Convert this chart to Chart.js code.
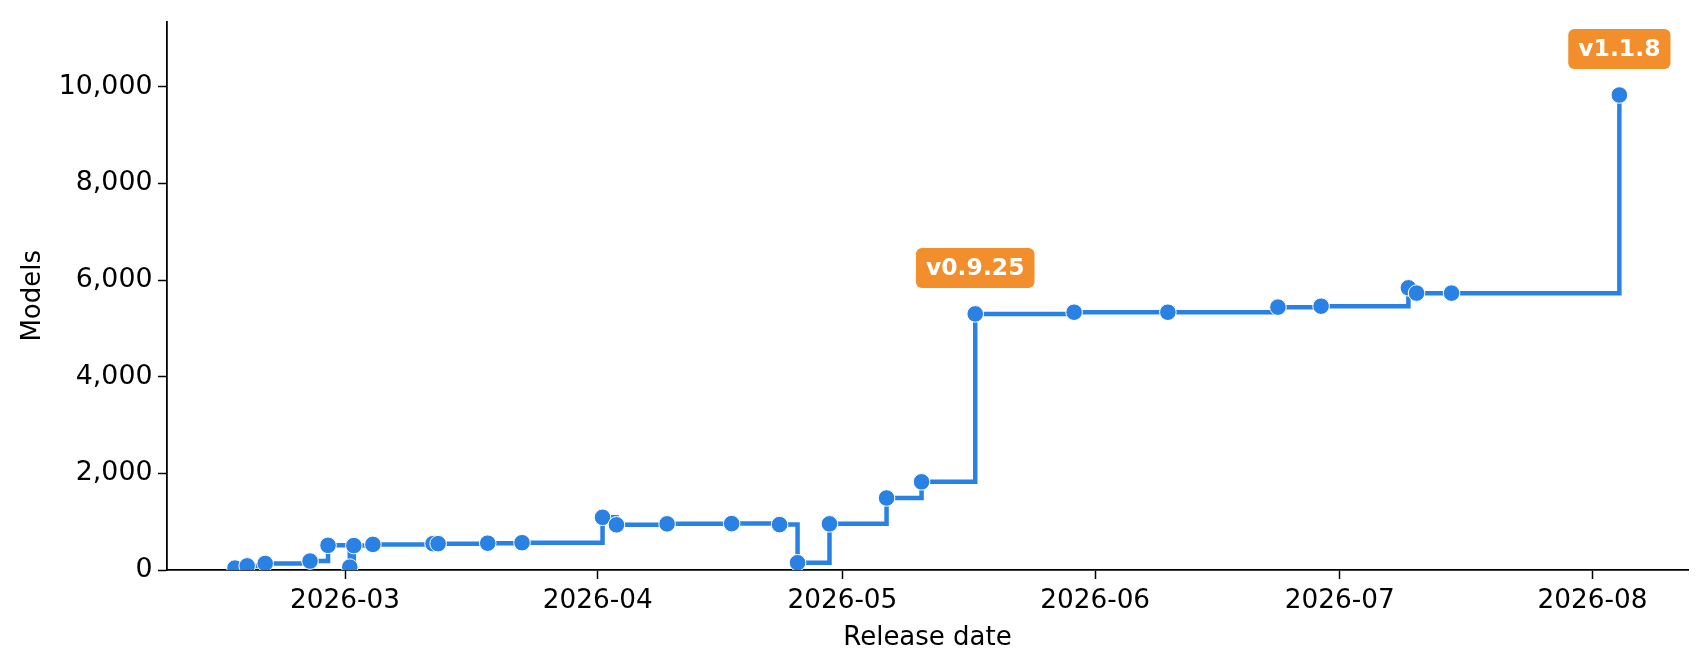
<!DOCTYPE html>
<html>
<head>
<meta charset="utf-8">
<script src="https://cdn.jsdelivr.net/npm/chart.js@4"></script>
<style>
  html, body { margin: 0; padding: 0; background: #fff; }
  #wrap { width: 1708px; height: 671px; }
</style>
</head>
<body>
<div id="wrap"><canvas id="modelsChart"></canvas></div>
<script>
// release dates (UTC) and cumulative model count at each release
const releaseDates = [
  '2026-02-15T12:00Z', '2026-02-17T00:00Z', '2026-02-19T05:00Z', '2026-02-24T17:00Z',
  '2026-02-26T22:00Z', '2026-03-01T14:00Z', '2026-03-02T02:00Z', '2026-03-04T10:00Z',
  '2026-03-11T19:00Z', '2026-03-12T10:00Z', '2026-03-18T12:00Z', '2026-03-22T17:00Z',
  '2026-04-01T14:00Z', '2026-04-03T07:00Z', '2026-04-09T12:00Z', '2026-04-17T10:00Z',
  '2026-04-23T07:00Z', '2026-04-25T12:00Z', '2026-04-29T10:00Z', '2026-05-06T10:00Z',
  '2026-05-10T17:00Z', '2026-05-17T07:00Z', '2026-05-29T10:00Z', '2026-06-09T22:00Z',
  '2026-06-23T10:00Z', '2026-06-28T17:00Z', '2026-07-09T10:00Z', '2026-07-10T10:00Z',
  '2026-07-14T17:00Z', '2026-08-04T07:00Z'
];
const modelCounts = [
  40, 85, 135, 185,
  510, 60, 505, 530,
  545, 545, 555, 565,
  1090, 935, 955, 960,
  940, 150, 955, 1490,
  1825, 5300, 5335, 5335,
  5440, 5460, 5840, 5730,
  5730, 9830
];

// releases that get a version badge
const badgeIndex = [21, 29];
const badgeText = ['v0.9.25', 'v1.1.8'];

// axis ticks
const xTickDates = ['2026-03-01', '2026-04-01', '2026-05-01', '2026-06-01', '2026-07-01', '2026-08-01'];
const yTicks = [0, 2000, 4000, 6000, 8000, 10000];

const FONT = 'DejaVu Sans';
const BLUE = '#2a81e4';
const ORANGE = '#f28e2b';

// draws the orange version badges above the chosen points
const badgePlugin = {
  id: 'badges',
  afterDatasetsDraw(chart) {
    const ctx = chart.ctx;
    const meta = chart.getDatasetMeta(0);
    ctx.save();
    ctx.font = 'bold 23.5px "' + FONT + '"';
    ctx.textAlign = 'center';
    ctx.textBaseline = 'middle';
    badgeIndex.forEach((idx, i) => {
      const pt = meta.data[idx];
      const cx = pt.x;
      const cy = pt.y - 46;
      const w = ctx.measureText(badgeText[i]).width + 20;
      const h = 40;
      ctx.fillStyle = ORANGE;
      ctx.beginPath();
      ctx.roundRect(cx - w / 2, cy - h / 2, w, h, 6);
      ctx.fill();
      ctx.fillStyle = '#fff';
      ctx.fillText(badgeText[i], cx, cy + 1);
    });
    ctx.restore();
  }
};

Chart.defaults.font.family = FONT;
Chart.defaults.color = '#000';

const points = releaseDates.map((d, i) => ({ x: Date.parse(d), y: modelCounts[i] }));

new Chart(document.getElementById('modelsChart'), {
  type: 'line',
  data: {
    datasets: [{
      data: points,
      stepped: true,
      borderColor: BLUE,
      borderWidth: 4.5,
      borderJoinStyle: 'miter',
      pointRadius: 8.3,
      pointBackgroundColor: BLUE,
      pointBorderColor: '#fff',
      pointBorderWidth: 1,
      fill: false
    }]
  },
  options: {
    responsive: true,
    maintainAspectRatio: false,
    animation: false,
    layout: { padding: { top: 15, right: 20, left: 0, bottom: 0 } },
    plugins: {
      legend: { display: false },
      tooltip: { enabled: false }
    },
    scales: {
      x: {
        type: 'linear',
        min: Date.parse('2026-02-07T04:00Z'),
        max: Date.parse('2026-08-12T17:00Z'),
        afterBuildTicks: (scale) => { scale.ticks = xTickDates.map(d => ({ value: Date.parse(d) })); },
        afterFit: (scale) => { scale.height = 101; },
        ticks: {
          font: { size: 26.3 },
          maxRotation: 0,
          autoSkip: false,
          padding: 6,
          callback: (v) => new Date(v).toISOString().slice(0, 7)
        },
        grid: { display: true, drawOnChartArea: false, drawTicks: true, tickLength: 9, tickWidth: 1.5, tickColor: '#000' },
        border: { display: true, color: '#000', width: 1.8 },
        title: { display: true, text: 'Release date', font: { size: 26 }, padding: { top: 0, bottom: 17.5 } }
      },
      y: {
        min: 0,
        max: 11350,
        afterBuildTicks: (scale) => { scale.ticks = yTicks.map(v => ({ value: v })); },
        afterFit: (scale) => { scale.width = 167; },
        ticks: {
          font: { size: 26.8 },
          padding: 5.5,
          callback: (v) => v.toLocaleString('en-US')
        },
        grid: { display: true, drawOnChartArea: false, drawTicks: true, tickLength: 9, tickWidth: 1.5, tickColor: '#000' },
        border: { display: true, color: '#000', width: 1.8 },
        title: { display: true, text: 'Models', font: { size: 26 }, padding: { top: 17.5, bottom: 0 } }
      }
    }
  },
  plugins: [badgePlugin]
});
</script>
</body>
</html>
